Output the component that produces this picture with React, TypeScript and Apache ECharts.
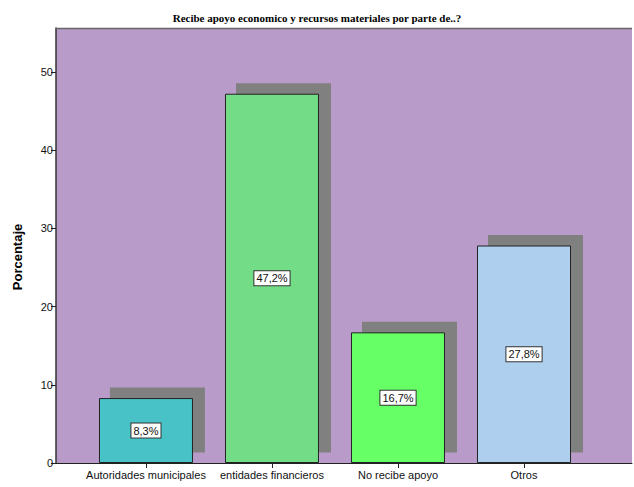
import React, { useEffect, useRef } from "react";
import * as echarts from "echarts";

const categories = ["Autoridades municipales", "entidades financieros", "No recibe apoyo", "Otros"];
const values = [8.3, 47.2, 16.7, 27.8];
const labels = ["8,3%", "47,2%", "16,7%", "27,8%"];
const barColors = ["#48C2C6", "#72DC87", "#66FF66", "#AECFEE"];
const yTicks = [0, 10, 20, 30, 40, 50];
const titleText = "Recibe apoyo economico y recursos materiales por parte de..?";
const yName = "Porcentaje";

export default function App() {
  const ref = useRef<HTMLDivElement>(null);
  useEffect(() => {
    if (!ref.current) return;
    const chart = echarts.init(ref.current, undefined, { renderer: "svg" });
    const idx = categories.map((_, i) => i);
    chart.setOption({
      animation: false,
      backgroundColor: "#ffffff",
      title: {
        text: titleText,
        left: "center",
        top: 7,
        textStyle: { fontFamily: "Liberation Serif", fontWeight: "bold", fontSize: 11, color: "#000" },
      },
      graphic: [
        {
          type: "text",
          x: 17,
          y: 257,
          rotation: Math.PI / 2,
          style: {
            text: yName,
            fontFamily: "Liberation Sans",
            fontWeight: "bold",
            fontSize: 13,
            fill: "#000",
            align: "center",
            verticalAlign: "middle",
          },
        },
        {
          type: "line",
          shape: { x1: 56, y1: 28.5, x2: 632, y2: 28.5 },
          style: { stroke: "#666", lineWidth: 1.5 },
          z: 10,
        },
      ],
      grid: {
        left: 56,
        right: 2,
        top: 28,
        bottom: 24,
        show: true,
        backgroundColor: "#B89BC9",
        borderWidth: 0,
      },
      xAxis: {
        type: "value",
        min: -0.714,
        max: 3.857,
        splitLine: { show: false },
        axisLine: { show: true, onZero: false, lineStyle: { color: "#222", width: 1 } },
        axisTick: { show: true, customValues: idx, length: 5, lineStyle: { color: "#222" } },
        axisLabel: {
          customValues: idx,
          formatter: (v: number) => categories[Math.round(v)] ?? "",
          fontFamily: "Liberation Sans",
          fontSize: 11,
          color: "#111",
          margin: 6,
        },
      },
      yAxis: {
        type: "value",
        min: 0,
        max: 55.6,
        interval: 10,
        splitLine: { show: false },
        axisLine: { show: true, onZero: false, lineStyle: { color: "#333", width: 1.5 } },
        axisTick: { show: true, length: 5, lineStyle: { color: "#222" }, customValues: yTicks },
        axisLabel: {
          customValues: yTicks,
          fontFamily: "Liberation Sans",
          fontSize: 11,
          color: "#111",
          margin: 3,
        },
      },
      series: [
        {
          type: "custom",
          z: 1,
          data: values.map((v, i) => [i, v]),
          renderItem: (params: any, api: any) => {
            const x = api.value(0);
            const v = api.value(1);
            const top = api.coord([x, v]);
            const base = api.coord([x, 0]);
            return {
              type: "rect",
              shape: { x: top[0] - 47 + 11, y: top[1] - 10.5, width: 95, height: base[1] - top[1] },
              style: { fill: "#808080" },
            };
          },
        },
        {
          type: "bar",
          z: 2,
          barWidth: 94,
          data: values.map((v, i) => ({
            value: [i, v],
            itemStyle: { color: barColors[i], borderColor: "#222", borderWidth: 1 },
            label: { formatter: labels[i] },
          })),
          label: {
            show: true,
            position: "inside",
            fontFamily: "Liberation Sans",
            fontSize: 11,
            color: "#111",
            backgroundColor: "#ffffff",
            borderColor: "#333",
            borderWidth: 1,
            padding: [2, 2, 1, 2],
          },
        },
      ],
    });
    return () => chart.dispose();
  }, []);
  return <div ref={ref} style={{ width: 634, height: 487, position: "absolute", left: 0, top: 0 }} />;
}
